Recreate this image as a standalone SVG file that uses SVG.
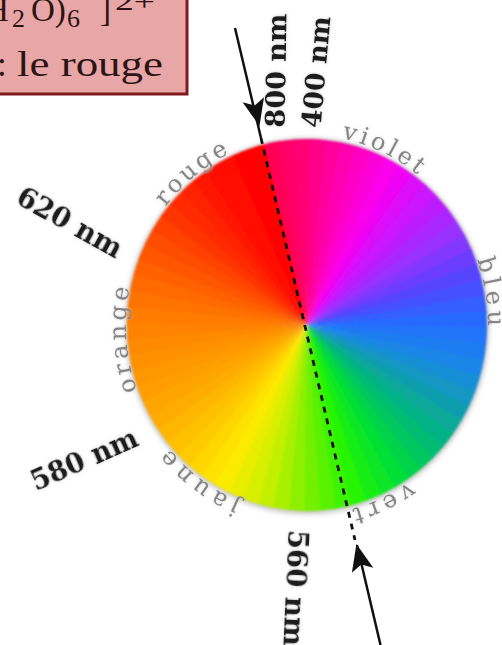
<svg xmlns="http://www.w3.org/2000/svg" xmlns:xlink="http://www.w3.org/1999/xlink" width="502" height="645" viewBox="0 0 502 645">
<style>
.cn{font-family:"DejaVu Serif","Liberation Serif",serif;font-size:24px;fill:#858585}
.nm{font-family:"DejaVu Serif","Liberation Serif",serif;font-size:27px;font-weight:bold;fill:#1a1a1a}
.bx{font-family:"Liberation Serif","Times New Roman",serif;fill:#2a1414}
.ln{stroke:#111;stroke-width:2.5;fill:none}
.ds{stroke:#111;stroke-width:2.8;fill:none;stroke-dasharray:6 6}
.ah{fill:#111}
</style>
<defs>
<path id="w" d="M0 0L0 -186A186 186 0 0 1 18.15 -185.11Z"/>
<path id="lp" d="M307 135A181 190 0 1 1 307 515A181 190 0 1 1 307 135Z"/>
<filter id="soft" x="-5%" y="-5%" width="110%" height="110%"><feGaussianBlur stdDeviation="1"/></filter>
<filter id="sh" x="-10%" y="-10%" width="120%" height="120%"><feGaussianBlur stdDeviation="2.5"/></filter>
<filter id="halo" x="-20%" y="-20%" width="140%" height="140%">
<feGaussianBlur in="SourceAlpha" stdDeviation="1.8" result="b"/>
<feFlood flood-color="#9a9a9a" flood-opacity="0.6"/>
<feComposite in2="b" operator="in"/>
<feMerge><feMergeNode/><feMergeNode in="SourceGraphic"/></feMerge>
</filter>
<filter id="halo2" x="-20%" y="-20%" width="140%" height="140%">
<feGaussianBlur in="SourceAlpha" stdDeviation="1.5" result="b"/>
<feFlood flood-color="#c8c8c8" flood-opacity="0.7"/>
<feComposite in2="b" operator="in"/>
<feMerge><feMergeNode/><feMergeNode in="SourceGraphic"/></feMerge>
</filter>
</defs>
<rect width="502" height="645" fill="#fff"/>

<g id="box">
<rect x="-5" y="-5" width="192" height="99" fill="#E9A6A7" stroke="#7E1A1A" stroke-width="3"/>
<text class="bx" x="-15" y="21" font-size="33">H</text>
<text class="bx" x="12" y="27" font-size="26">2</text>
<text class="bx" x="31" y="21" font-size="33">O)</text>
<text class="bx" x="67" y="27" font-size="26">6</text>
<text class="bx" x="100" y="21" font-size="33">]</text>
<text class="bx" x="115" y="10" font-size="26" textLength="40" lengthAdjust="spacingAndGlyphs">2+</text>
<text class="bx" x="-3" y="76" font-size="35">:</text>
<text class="bx" x="17" y="76" font-size="35" textLength="146" lengthAdjust="spacingAndGlyphs">le rouge</text>
</g>

<g id="wheel">
<ellipse cx="307" cy="326" rx="182" ry="188" fill="#999" opacity="0.55" filter="url(#sh)"/>
<g filter="url(#soft)">
<g transform="translate(307 325) scale(0.968 1)">
<use href="#w" transform="rotate(-14.25)" fill="#FF0057"/>
<use href="#w" transform="rotate(-9.25)" fill="#FF0066"/>
<use href="#w" transform="rotate(-4.25)" fill="#FF0075"/>
<use href="#w" transform="rotate(0.75)" fill="#FF0088"/>
<use href="#w" transform="rotate(5.75)" fill="#FF009C"/>
<use href="#w" transform="rotate(10.75)" fill="#FF00B0"/>
<use href="#w" transform="rotate(15.75)" fill="#FE00C4"/>
<use href="#w" transform="rotate(20.75)" fill="#FC00D8"/>
<use href="#w" transform="rotate(25.75)" fill="#FA00EC"/>
<use href="#w" transform="rotate(30.75)" fill="#ED05F4"/>
<use href="#w" transform="rotate(35.75)" fill="#DC0CF9"/>
<use href="#w" transform="rotate(40.75)" fill="#CB13FE"/>
<use href="#w" transform="rotate(45.75)" fill="#BB1CFF"/>
<use href="#w" transform="rotate(50.75)" fill="#AA26FF"/>
<use href="#w" transform="rotate(55.75)" fill="#9930FF"/>
<use href="#w" transform="rotate(60.75)" fill="#8337FF"/>
<use href="#w" transform="rotate(65.75)" fill="#6C3EFF"/>
<use href="#w" transform="rotate(70.75)" fill="#5545FF"/>
<use href="#w" transform="rotate(75.75)" fill="#4451FF"/>
<use href="#w" transform="rotate(80.75)" fill="#355EFF"/>
<use href="#w" transform="rotate(85.75)" fill="#266BFF"/>
<use href="#w" transform="rotate(90.75)" fill="#2075F8"/>
<use href="#w" transform="rotate(95.75)" fill="#1D7DF0"/>
<use href="#w" transform="rotate(100.75)" fill="#1A85E8"/>
<use href="#w" transform="rotate(105.75)" fill="#168ED6"/>
<use href="#w" transform="rotate(110.75)" fill="#1396C2"/>
<use href="#w" transform="rotate(115.75)" fill="#109EAE"/>
<use href="#w" transform="rotate(120.75)" fill="#0BA89A"/>
<use href="#w" transform="rotate(125.75)" fill="#06B286"/>
<use href="#w" transform="rotate(130.75)" fill="#01BC72"/>
<use href="#w" transform="rotate(135.75)" fill="#00C75E"/>
<use href="#w" transform="rotate(140.75)" fill="#00D34A"/>
<use href="#w" transform="rotate(145.75)" fill="#00DF36"/>
<use href="#w" transform="rotate(150.75)" fill="#0BE625"/>
<use href="#w" transform="rotate(155.75)" fill="#18ED14"/>
<use href="#w" transform="rotate(160.75)" fill="#25F403"/>
<use href="#w" transform="rotate(165.75)" fill="#3DF400"/>
<use href="#w" transform="rotate(170.75)" fill="#58F200"/>
<use href="#w" transform="rotate(175.75)" fill="#73F000"/>
<use href="#w" transform="rotate(180.75)" fill="#8DF000"/>
<use href="#w" transform="rotate(185.75)" fill="#A8F000"/>
<use href="#w" transform="rotate(190.75)" fill="#C3F000"/>
<use href="#w" transform="rotate(195.75)" fill="#D7EF00"/>
<use href="#w" transform="rotate(200.75)" fill="#E9ED00"/>
<use href="#w" transform="rotate(205.75)" fill="#FBEB00"/>
<use href="#w" transform="rotate(210.75)" fill="#FFE200"/>
<use href="#w" transform="rotate(215.75)" fill="#FFD600"/>
<use href="#w" transform="rotate(220.75)" fill="#FFCA00"/>
<use href="#w" transform="rotate(225.75)" fill="#FFC000"/>
<use href="#w" transform="rotate(230.75)" fill="#FFB600"/>
<use href="#w" transform="rotate(235.75)" fill="#FFAC00"/>
<use href="#w" transform="rotate(240.75)" fill="#FFA500"/>
<use href="#w" transform="rotate(245.75)" fill="#FF9E00"/>
<use href="#w" transform="rotate(250.75)" fill="#FF9700"/>
<use href="#w" transform="rotate(255.75)" fill="#FF9100"/>
<use href="#w" transform="rotate(260.75)" fill="#FF8A00"/>
<use href="#w" transform="rotate(265.75)" fill="#FF8300"/>
<use href="#w" transform="rotate(270.75)" fill="#FF7B00"/>
<use href="#w" transform="rotate(275.75)" fill="#FF7300"/>
<use href="#w" transform="rotate(280.75)" fill="#FF6B00"/>
<use href="#w" transform="rotate(285.75)" fill="#FF6100"/>
<use href="#w" transform="rotate(290.75)" fill="#FF5700"/>
<use href="#w" transform="rotate(295.75)" fill="#FF4D00"/>
<use href="#w" transform="rotate(300.75)" fill="#FF4200"/>
<use href="#w" transform="rotate(305.75)" fill="#FF3600"/>
<use href="#w" transform="rotate(310.75)" fill="#FF2A00"/>
<use href="#w" transform="rotate(315.75)" fill="#FF2000"/>
<use href="#w" transform="rotate(320.75)" fill="#FF1600"/>
<use href="#w" transform="rotate(325.75)" fill="#FF0C00"/>
<use href="#w" transform="rotate(330.75)" fill="#FF0800"/>
<use href="#w" transform="rotate(335.75)" fill="#FF0500"/>
<use href="#w" transform="rotate(340.75)" fill="#FF0200"/>
</g>
</g>
</g>

<g id="color-names" filter="url(#halo2)">
<text class="cn" text-anchor="middle" letter-spacing="3.2"><textPath href="#lp" startOffset="89.6%">rouge</textPath></text>
<text class="cn" text-anchor="middle" letter-spacing="3.5"><textPath href="#lp" startOffset="6.8%">violet</textPath></text>
<text class="cn" text-anchor="middle" letter-spacing="5"><textPath href="#lp" startOffset="22.4%">bleu</textPath></text>
<text class="cn" text-anchor="middle" letter-spacing="5"><textPath href="#lp" startOffset="43.6%">vert</textPath></text>
<text class="cn" text-anchor="middle" letter-spacing="5.6"><textPath href="#lp" startOffset="59.9%">jaune</textPath></text>
<text class="cn" text-anchor="middle" letter-spacing="3.8"><textPath href="#lp" startOffset="73.9%">orange</textPath></text>
</g>

<g id="wavelengths" filter="url(#halo)">
<text class="nm" x="0" y="9.5" text-anchor="middle" textLength="114" lengthAdjust="spacingAndGlyphs" transform="translate(276 70.5) rotate(-89)">800 nm</text>
<text class="nm" x="0" y="9.5" text-anchor="middle" textLength="112" lengthAdjust="spacingAndGlyphs" transform="translate(316 72) rotate(-85)">400 nm</text>
<text class="nm" x="0" y="9.5" text-anchor="middle" textLength="116" lengthAdjust="spacingAndGlyphs" transform="translate(70 222) rotate(29)">620 nm</text>
<text class="nm" x="0" y="9.5" text-anchor="middle" textLength="114" lengthAdjust="spacingAndGlyphs" transform="translate(84 459) rotate(-24)">580 nm</text>
<text class="nm" x="0" y="9.5" text-anchor="middle" textLength="116" lengthAdjust="spacingAndGlyphs" transform="translate(296 588) rotate(92.5)">560 nm</text>
</g>

<g id="connectors">
<path class="ds" d="M261 138L355 540"/>
<path class="ln" d="M235 28L261 138"/>
<path class="ah" d="M259.5 126L242.6 102.2L254.7 105.6L264 97.2Z"/>
<path class="ln" d="M380.5 645L357 545"/>
<path class="ah" d="M356.4 544L373.3 567.8L361.2 564.4L351.9 572.8Z"/>
</g>
</svg>
